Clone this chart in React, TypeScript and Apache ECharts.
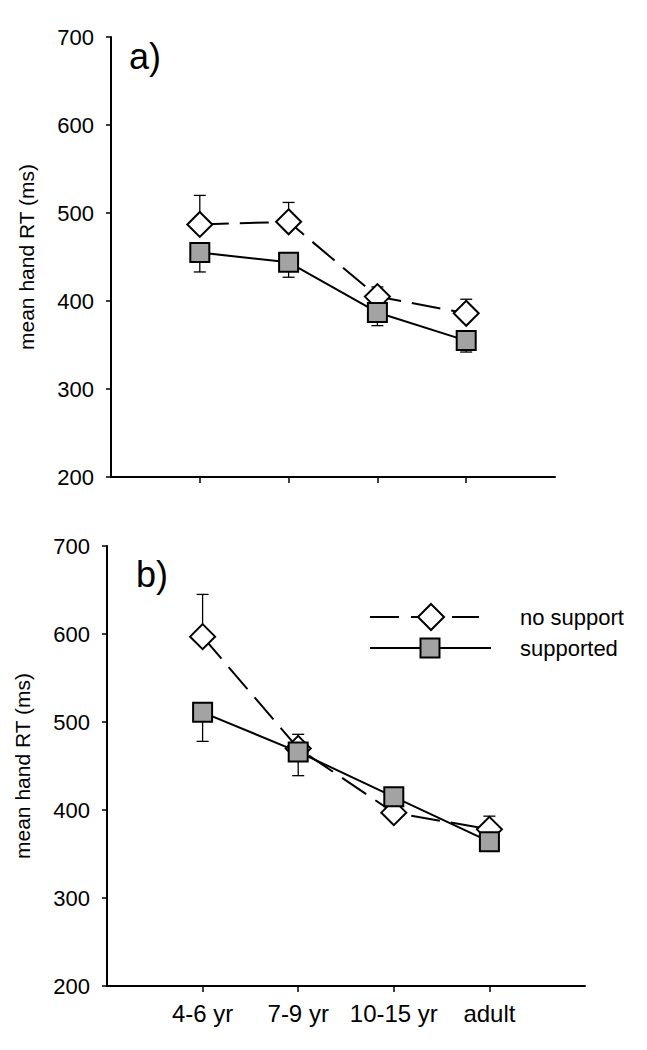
import { useEffect, useRef } from "react";
import * as echarts from "echarts";

const categories = ["4-6 yr", "7-9 yr", "10-15 yr", "adult"];
const yTickMin = 200;
const yTickMax = 700;
const yTickStep = 100;

const noSupportA = [487, 490, 405, 386];
const noSupportAErr = [33, 22, 11, 16];
const supportedA = [455, 444, 387, 355];
const supportedAErr = [22, 17, 15, 13];

const noSupportB = [597, 470, 397, 378];
const noSupportBErr = [48, 16, 11, 15];
const supportedB = [511, 466, 415, 364];
const supportedBErr = [33, 27, 12, 8];

const legendNames = ["no support", "supported"];
const panelLabels = ["a)", "b)"];

const FONT = "'Liberation Sans', Arial, sans-serif";

function pts(vals: number[]) {
  return vals.map((v, i) => [i + 1, v]);
}

function errSeries(idx: number, vals: number[], errs: number[], dir: number) {
  return {
    type: "custom",
    xAxisIndex: idx,
    yAxisIndex: idx,
    z: 1,
    silent: true,
    data: vals.map((v, i) => [i + 1, v, errs[i]]),
    renderItem: (params: any, api: any) => {
      const x = api.value(0);
      const y = api.value(1);
      const e = api.value(2);
      const p0 = api.coord([x, y]);
      const p1 = api.coord([x, y + dir * e]);
      return {
        type: "group",
        children: [
          {
            type: "line",
            shape: { x1: p0[0], y1: p0[1], x2: p1[0], y2: p1[1] },
            style: { stroke: "#000", lineWidth: 1.3 },
          },
          {
            type: "line",
            shape: { x1: p1[0] - 6, y1: p1[1], x2: p1[0] + 6, y2: p1[1] },
            style: { stroke: "#000", lineWidth: 1.3 },
          },
        ],
      };
    },
  };
}

function noSupportSeries(idx: number, vals: number[]) {
  return {
    name: legendNames[0],
    type: "line",
    xAxisIndex: idx,
    yAxisIndex: idx,
    z: 2,
    data: pts(vals),
    symbol: "diamond",
    symbolSize: 25,
    lineStyle: { color: "#000", width: 2, type: [29, 11] },
    itemStyle: { color: "#fff", borderColor: "#000", borderWidth: 2 },
  };
}

function supportedSeries(idx: number, vals: number[]) {
  return {
    name: legendNames[1],
    type: "line",
    xAxisIndex: idx,
    yAxisIndex: idx,
    z: 3,
    data: pts(vals),
    symbol: "rect",
    symbolSize: 19,
    lineStyle: { color: "#000", width: 2, type: "solid" },
    itemStyle: { color: "#a3a3a3", borderColor: "#000", borderWidth: 2 },
  };
}

function xAxisDef(idx: number, showLabels: boolean) {
  return {
    type: "value",
    gridIndex: idx,
    min: 0,
    max: 5,
    splitLine: { show: false },
    axisLine: { show: true, onZero: false, lineStyle: { color: "#000", width: 2 } },
    axisTick: {
      show: true,
      customValues: [1, 2, 3, 4],
      length: 6,
      lineStyle: { color: "#000", width: 1.5 },
    },
    axisLabel: {
      show: showLabels,
      customValues: [1, 2, 3, 4],
      formatter: (v: number) => categories[Math.round(v) - 1] ?? "",
      color: "#000",
      fontSize: 24,
      fontFamily: FONT,
      margin: 15,
    },
  };
}

function yAxisDef(idx: number) {
  return {
    type: "value",
    gridIndex: idx,
    min: yTickMin,
    max: yTickMax,
    interval: yTickStep,
    name: "mean hand RT (ms)",
    nameLocation: "middle",
    nameGap: 74,
    nameTextStyle: { color: "#000", fontSize: 21, fontFamily: FONT },
    splitLine: { show: false },
    axisLine: { show: true, onZero: false, lineStyle: { color: "#000", width: 2 } },
    axisTick: { show: true, length: 5, lineStyle: { color: "#000", width: 1.5 } },
    axisLabel: { color: "#000", fontSize: 22, fontFamily: FONT, margin: 17 },
  };
}

export default function App() {
  const ref = useRef<HTMLDivElement>(null);
  useEffect(() => {
    const chart = echarts.init(ref.current!, null, { renderer: "svg" });
    const option: any = {
      animation: false,
      backgroundColor: "#fff",
      textStyle: { fontFamily: FONT },
      grid: [
        { left: 111, top: 37, width: 444, height: 440 },
        { left: 107, top: 546, width: 478, height: 440 },
      ],
      xAxis: [xAxisDef(0, false), xAxisDef(1, true)],
      yAxis: [yAxisDef(0), yAxisDef(1)],
      series: [
        errSeries(0, noSupportA, noSupportAErr, 1),
        errSeries(0, supportedA, supportedAErr, -1),
        noSupportSeries(0, noSupportA),
        supportedSeries(0, supportedA),
        errSeries(1, noSupportB, noSupportBErr, 1),
        errSeries(1, supportedB, supportedBErr, -1),
        noSupportSeries(1, noSupportB),
        supportedSeries(1, supportedB),
      ],
      graphic: [
        {
          type: "text",
          x: 129,
          y: 38,
          style: { text: panelLabels[0], fill: "#000", fontSize: 36, fontFamily: FONT },
        },
        {
          type: "text",
          x: 136,
          y: 556,
          style: { text: panelLabels[1], fill: "#000", fontSize: 36, fontFamily: FONT },
        },
        {
          type: "line",
          shape: { x1: 370, y1: 617, x2: 479, y2: 617 },
          style: { stroke: "#000", lineWidth: 2, lineDash: [29, 12] },
        },
        {
          type: "polygon",
          shape: { points: [[431, 604], [444, 617], [431, 630], [418, 617]] },
          style: { fill: "#fff", stroke: "#000", lineWidth: 2 },
        },
        {
          type: "line",
          shape: { x1: 370, y1: 648, x2: 491, y2: 648 },
          style: { stroke: "#000", lineWidth: 2 },
        },
        {
          type: "rect",
          shape: { x: 420.5, y: 638.5, width: 19, height: 19 },
          style: { fill: "#a3a3a3", stroke: "#000", lineWidth: 2 },
        },
        {
          type: "text",
          x: 520,
          y: 617,
          style: {
            text: legendNames[0],
            fill: "#000",
            fontSize: 22,
            fontFamily: FONT,
            verticalAlign: "middle",
          },
        },
        {
          type: "text",
          x: 520,
          y: 648,
          style: {
            text: legendNames[1],
            fill: "#000",
            fontSize: 22,
            fontFamily: FONT,
            verticalAlign: "middle",
          },
        },
      ],
    };
    chart.setOption(option);
    return () => chart.dispose();
  }, []);
  return (
    <div
      ref={ref}
      style={{ position: "absolute", left: 0, top: 0, width: 647, height: 1050, background: "#fff" }}
    />
  );
}
